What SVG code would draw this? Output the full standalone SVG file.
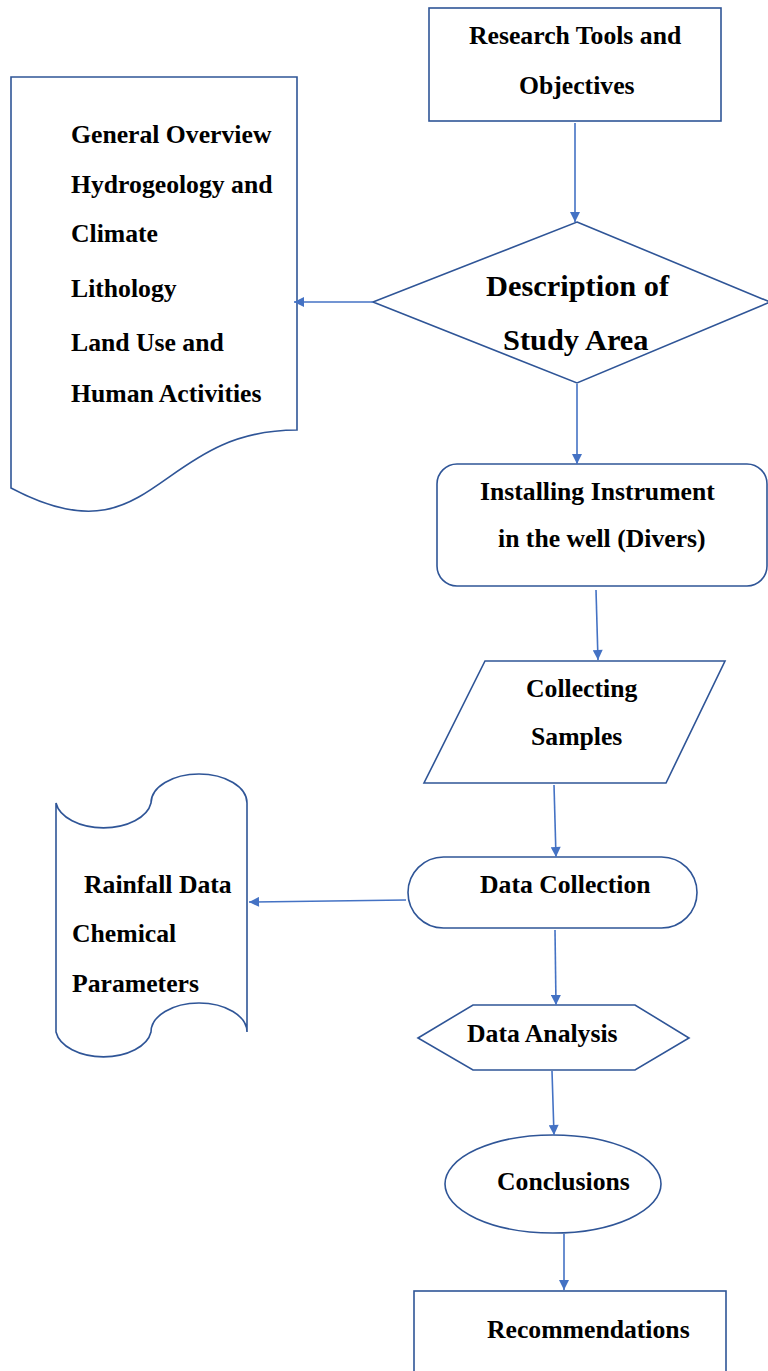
<svg xmlns="http://www.w3.org/2000/svg" width="768" height="1371" viewBox="0 0 768 1371">
<style>
.s{fill:#fff;stroke:#2F5597;stroke-width:1.6}
.c{fill:none;stroke:#4472C4;stroke-width:1.6;marker-end:url(#ah)}
text{font-family:"Liberation Serif","Times New Roman",serif;font-weight:bold;font-size:25.7px;fill:#000}
.big{font-size:30.4px}
</style>
<defs>
<marker id="ah" viewBox="0 0 10 10" refX="10" refY="5" markerWidth="11" markerHeight="10" markerUnits="userSpaceOnUse" orient="auto">
<path d="M0,0 L10,5 L0,10 Z" fill="#4472C4"/>
</marker>
</defs>
<rect width="768" height="1371" fill="#fff"/>
<g id="research">
<rect class="s" x="429" y="8" width="292" height="113"/>
<text x="469" y="44">Research Tools and</text>
<text x="519" y="94">Objectives</text>
</g>
<g id="description">
<polygon class="s" points="577,222 770,302 577,383 373,302"/>
<text class="big" x="486" y="296">Description of</text>
<text class="big" x="503" y="350">Study Area</text>
</g>
<g id="overview">
<path class="s" d="M11,77 H297 V430 C154,430 154,564 11,488 Z"/>
<text x="71" y="143">General Overview</text>
<text x="71" y="193">Hydrogeology and</text>
<text x="71" y="242">Climate</text>
<text x="71" y="297">Lithology</text>
<text x="71" y="351">Land Use and</text>
<text x="71" y="402">Human Activities</text>
</g>
<g id="installing">
<rect class="s" x="437" y="464" width="330" height="122" rx="20"/>
<text x="480" y="500">Installing Instrument</text>
<text x="498" y="547">in the well (Divers)</text>
</g>
<g id="collecting">
<polygon class="s" points="485,661 725,661 666,783 424,783"/>
<text x="526" y="697">Collecting</text>
<text x="531" y="745">Samples</text>
</g>
<g id="datacollection">
<rect class="s" x="408" y="857" width="289" height="71" rx="35.5"/>
<text x="480" y="893">Data Collection</text>
</g>
<g id="rainfall">
<path class="s" d="M56,803 A48,29 0 0 0 151,803 A48,29 0 0 1 247,803 V1032 A48,29 0 0 0 151,1032 A48,29 0 0 1 56,1032 Z"/>
<text x="84" y="893">Rainfall Data</text>
<text x="72" y="942">Chemical</text>
<text x="72" y="992">Parameters</text>
</g>
<g id="analysis">
<polygon class="s" points="418,1038 473,1005 635,1005 689,1038 635,1070 473,1070"/>
<text x="467" y="1042">Data Analysis</text>
</g>
<g id="conclusions">
<ellipse class="s" cx="553" cy="1184" rx="108" ry="49"/>
<text x="497" y="1190">Conclusions</text>
</g>
<g id="recommendations">
<rect class="s" x="414" y="1291" width="312" height="100"/>
<text x="487" y="1338">Recommendations</text>
</g>
<g id="connectors">
<path class="c" d="M575,123 L575,222"/>
<path class="c" d="M373,302 L294,302"/>
<path class="c" d="M577,384 L577,464"/>
<path class="c" d="M596,590 L598,660"/>
<path class="c" d="M554,785 L556,857"/>
<path class="c" d="M406,900 L249,902"/>
<path class="c" d="M555,930 L556,1005"/>
<path class="c" d="M552,1071 L554,1135"/>
<path class="c" d="M564,1234 L564,1290"/>
</g>
</svg>
